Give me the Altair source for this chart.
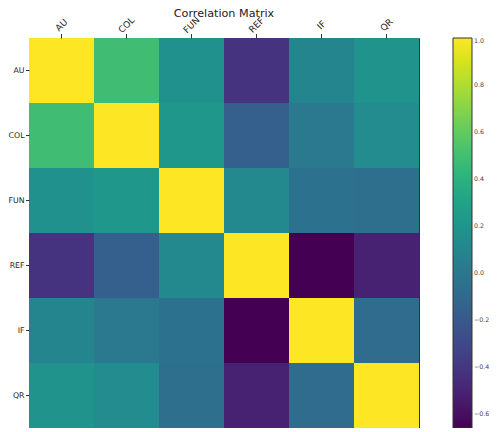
import altair as alt
import pandas as pd

labels = ["AU", "COL", "FUN", "REF", "IF", "QR"]
row_au = [1.00, 0.49, 0.17, -0.42, 0.09, 0.19]
row_col = [0.49, 1.00, 0.22, -0.16, 0.01, 0.14]
row_fun = [0.17, 0.22, 1.00, 0.12, -0.04, -0.06]
row_ref = [-0.42, -0.16, 0.12, 1.00, -0.66, -0.51]
row_if = [0.09, 0.01, -0.04, -0.66, 1.00, -0.08]
row_qr = [0.19, 0.14, -0.06, -0.51, -0.08, 1.00]
legend_ticks = [-0.6, -0.4, -0.2, 0.0, 0.2, 0.4, 0.6, 0.8, 1.0]

rows = [row_au, row_col, row_fun, row_ref, row_if, row_qr]
records = []
for i, r in enumerate(rows):
    for j, v in enumerate(r):
        records.append({"row": labels[i], "col": labels[j], "value": v})
df = pd.DataFrame(records)

FONT = "DejaVu Sans"

color = alt.Color(
    "value:Q",
    scale=alt.Scale(scheme="viridis", domain=[-0.66, 1.0]),
    legend=alt.Legend(
        title=None,
        values=legend_ticks,
        format=".1f",
        gradientLength=390,
        gradientThickness=19,
        offset=34,
        labelFontSize=6.3,
        labelColor="#444444",
        labelFont=FONT,
        labelOffset=2,
        labelOverlap=False,
        gradientStrokeColor="#333333",
        gradientStrokeWidth=1,
    ),
)

y_enc = alt.Y(
    "row:N",
    sort=labels,
    title=None,
    axis=alt.Axis(
        orient="left",
        labelFontSize=7.8,
        labelFont=FONT,
        labelColor="#262626",
        tickSize=3.5,
        tickColor="#333333",
        labelPadding=1.5,
        domain=False,
    ),
)

top = alt.Chart(df).mark_rect().encode(
    x=alt.X(
        "col:N",
        sort=labels,
        title=None,
        axis=alt.Axis(
            orient="top",
            labelAngle=-45,
            labelAlign="center",
            labelBaseline="middle",
            labelPadding=9,
            labelFontSize=9,
            labelFont=FONT,
            labelColor="#262626",
            tickSize=4.5,
            tickColor="#333333",
            domain=False,
        ),
    ),
    y=y_enc,
    color=color,
)

bottom = alt.Chart(df).mark_rect().encode(
    x=alt.X(
        "col:N",
        sort=labels,
        title=None,
        axis=alt.Axis(
            orient="bottom",
            labels=False,
            tickSize=4.5,
            tickColor="#333333",
            domain=False,
        ),
    ),
    y=y_enc,
    color=color,
)

chart = (
    alt.layer(top, bottom)
    .resolve_axis(x="independent")
    .properties(
        width=390,
        height=390,
        autosize=alt.AutoSizeParams(type="none"),
        padding={"left": 21, "top": 30, "right": 70, "bottom": 0},
        title=alt.TitleParams(
            "Correlation Matrix",
            fontSize=11.2,
            fontWeight="normal",
            font=FONT,
            color="#222222",
            anchor="middle",
            offset=-4,
        ),
    )
    .configure_view(stroke="#333333", strokeWidth=1)
    .configure_scale(bandPaddingInner=0, bandPaddingOuter=0)
)

chart.save("out.html", embed_options={"renderer": "svg", "actions": False})
